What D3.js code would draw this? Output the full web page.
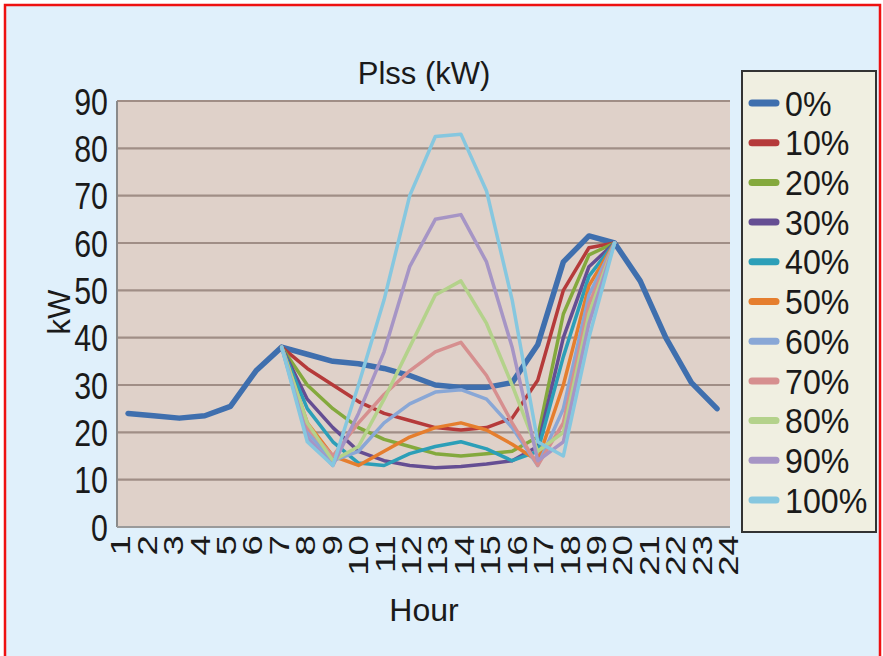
<!DOCTYPE html>
<html><head><meta charset="utf-8">
<script src="https://cdn.jsdelivr.net/npm/d3@7"></script>
<style>body{margin:0;background:#fff}svg{display:block}text{font-family:"Liberation Sans",Arial,sans-serif;fill:#1a1a1a}</style>
</head><body>
<script>
const hours = d3.range(1, 25);
const hourLabels = hours.map(String);
const yTicks = [0,10,20,30,40,50,60,70,80,90];
const seriesNames = ["0%","10%","20%","30%","40%","50%","60%","70%","80%","90%","100%"];
const seriesColors = ["#3f6fae","#b53a3a","#84a93d","#654e93","#2c9fb8","#e57e2e","#89a7d6","#d68f8f","#b4d28b","#a695c5","#86c7df"];
// hours 1..24 for 0%; others defined for hours 7..20
const s0   = [24,23.5,23,23.5,25.5,33,38,36.5,35,34.5,33.5,32,30,29.5,29.5,30.5,38.5,56,61.5,60,52,40,30.5,25];
const s10  = [38,33.5,30,26.5,24,22.5,21,20.5,21,23,31,50,59,60];
const s20  = [38,30,25,21,18.5,17,15.5,15,15.5,16,19,45,57.5,60];
const s30  = [38,27,21,16,14,13,12.5,12.8,13.3,14,17,40,55,60];
const s40  = [38,25,18,13.5,13,15.5,17,18,16.5,14,16,36,53,60];
const s50  = [38,22,15,13,16,19,21,22,20.5,17.5,14,30,51,60];
const s60  = [38,20,14,16,22,26,28.5,29,27,21,13,25,49,60];
const s70  = [38,21,15,22,28,33,37,39,32,22,13,22,47,60];
const s80  = [38,22,14,17,27,38,49,52,43,30,16,20,45,60];
const s90  = [38,19,13,24,37,55,65,66,56,38,14,18,43,60];
const s100 = [38,18,13,30,48,70,82.5,83,71,48,18,15,40,60];
const partHours = d3.range(7, 21);
const seriesValues = [s0,s10,s20,s30,s40,s50,s60,s70,s80,s90,s100];

const W = 883, H = 656;
const svg = d3.select("body").append("svg").attr("width", W).attr("height", H);
svg.append("rect").attr("x",0).attr("y",0).attr("width",W).attr("height",H).attr("fill","#ffffff");
svg.append("rect").attr("x",5).attr("y",5).attr("width",875).attr("height",670)
  .attr("fill","#e0f0fb").attr("stroke","#ee1111").attr("stroke-width",2.5);

const pl = 117, pr = 730, pt = 101, pb = 527;
const x = d3.scalePoint().domain(hours).range([128, 717]);
const xLab = d3.scalePoint().domain(hourLabels).range([120, 728]);
const y = d3.scaleLinear().domain([0, 90]).range([pb, pt]);

svg.append("rect").attr("x",pl).attr("y",pt).attr("width",pr-pl).attr("height",pb-pt).attr("fill","#dfd1c9");

// gridlines
svg.append("g").selectAll("line").data(yTicks.filter(d=>d>0)).join("line")
  .attr("x1",pl).attr("x2",pr).attr("y1",d=>y(d)).attr("y2",d=>y(d))
  .attr("stroke","#a08e86").attr("stroke-width",2.2);

// axes lines
svg.append("line").attr("x1",pl).attr("x2",pl).attr("y1",pt).attr("y2",pb).attr("stroke","#8a8a8a").attr("stroke-width",2);
svg.append("line").attr("x1",pl).attr("x2",pr).attr("y1",pb).attr("y2",pb).attr("stroke","#9a9a9a").attr("stroke-width",2);

// y axis labels (slightly condensed, tall)
const yAxis = d3.axisLeft(y).tickValues(yTicks).tickSize(0).tickPadding(0);
const gy = svg.append("g").attr("transform",`translate(${pl},0)`).call(yAxis);
gy.select(".domain").remove();
gy.selectAll("text").style("font-size","37px").style("font-family",'"Liberation Sans",Arial,sans-serif')
  .attr("fill","#1a1a1a").attr("dy","0.36em").attr("x",0)
  .attr("transform","translate(-9,0) scale(0.82,1)");

// x axis labels (rotated)
const xAxis = d3.axisBottom(xLab).tickSize(0);
const gx = svg.append("g").attr("transform",`translate(0,${pb})`).call(xAxis);
gx.select(".domain").remove();
gx.selectAll("text")
  .style("font-size","27px").style("font-family",'"Liberation Sans",Arial,sans-serif').attr("fill","#1a1a1a")
  .attr("text-anchor","end").attr("dy","0.36em").attr("y",0)
  .attr("transform","translate(0,8) rotate(-90) scale(1.36,1)")
  .attr("x",0);

// lines
const line = d3.line().x(d=>x(d[0])).y(d=>y(d[1]));
const data = seriesValues.map((vals,i)=>{
  const hs = i===0 ? hours : partHours;
  return hs.map((h,j)=>[h, vals[j]]);
});
svg.append("g").selectAll("path").data(data).join("path")
  .attr("d", line).attr("fill","none")
  .attr("stroke",(d,i)=>seriesColors[i])
  .attr("stroke-width",(d,i)=>i===0?5.5:3.5)
  .attr("stroke-linejoin","round").attr("stroke-linecap","round");

// titles
svg.append("text").attr("x",424).attr("y",84).attr("text-anchor","middle").style("font-size","31px").text("Plss (kW)");
svg.append("text").attr("x",424).attr("y",621).attr("text-anchor","middle").style("font-size","32px").text("Hour");
svg.append("text").attr("transform","translate(70,312) rotate(-90)").attr("text-anchor","middle").style("font-size","31px").text("kW");

// legend
const lg = svg.append("g");
lg.append("rect").attr("x",742).attr("y",71).attr("width",134).attr("height",461)
  .attr("fill","#f0efe1").attr("stroke","#333333").attr("stroke-width",2);
const ly = d3.scalePoint().domain(seriesNames).range([103, 500]);
const items = lg.selectAll("g.it").data(seriesNames).join("g").attr("class","it")
  .attr("transform",d=>`translate(0,${ly(d)})`);
items.append("line").attr("x1",752).attr("x2",776).attr("y1",0).attr("y2",0)
  .attr("stroke",(d,i)=>seriesColors[i]).attr("stroke-width",7).attr("stroke-linecap","round");
items.append("text").attr("x",0).attr("y",0).attr("dy","0.36em").style("font-size","35px")
  .attr("transform","translate(785,0) scale(0.92,1)").text(d=>d);
</script>
</body></html>
